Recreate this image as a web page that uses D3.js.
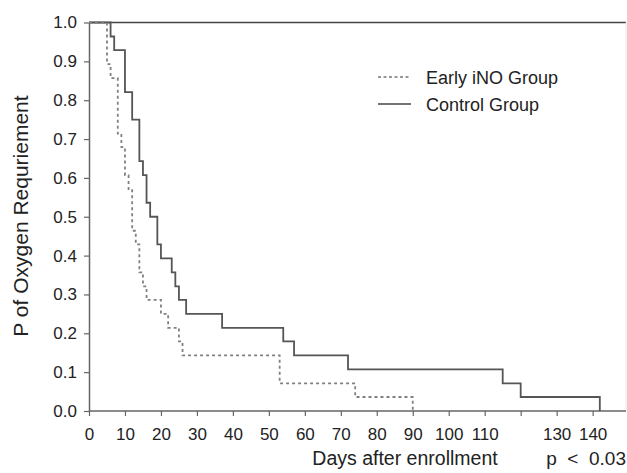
<!DOCTYPE html>
<html><head><meta charset="utf-8">
<script src="https://cdn.jsdelivr.net/npm/d3@7"></script>
<style>body{margin:0;background:#fff}svg{display:block}text{font-family:"Liberation Sans",Arial,sans-serif;fill:#222}</style>
</head><body>
<svg id="c" width="627" height="473"></svg>
<script>
// Kaplan-Meier steps: [day, probability after event]
const earlyDays  = [0, 5, 6, 8, 9, 10, 11, 12, 13, 14, 15, 16, 20, 22, 25, 26, 53, 74, 90];
const earlyProb  = [1.0, 0.893, 0.857, 0.714, 0.679, 0.607, 0.571, 0.464, 0.429, 0.357, 0.321, 0.286, 0.25, 0.214, 0.179, 0.143, 0.071, 0.036, 0.0];
const controlDays = [0, 6, 7, 10, 12, 14, 15, 16, 17, 19, 20, 23, 24, 25, 27, 37, 54, 57, 72, 115, 120, 142];
const controlProb = [1.0, 0.964, 0.929, 0.821, 0.75, 0.643, 0.607, 0.536, 0.5, 0.429, 0.393, 0.357, 0.321, 0.286, 0.25, 0.214, 0.179, 0.143, 0.107, 0.071, 0.036, 0.0];
const xTicks = [0,10,20,30,40,50,60,70,80,90,100,110,120,130,140];
const xTickLabels = ["0","10","20","30","40","50","60","70","80","90","100","110","","130","140"];
const yTicks = [0,0.1,0.2,0.3,0.4,0.5,0.6,0.7,0.8,0.9,1.0];
const seriesNames = ["Early iNO Group","Control Group"];

const svg = d3.select("#c");
const x = d3.scaleLinear().domain([0,149]).range([89,625]);
const y = d3.scaleLinear().domain([0,1]).range([411,22.5]);

// frame
svg.append("line").attr("x1",89).attr("x2",626).attr("y1",y(1)).attr("y2",y(1)).attr("stroke","#444").attr("stroke-width",1.5);
svg.append("line").attr("x1",626).attr("x2",626).attr("y1",y(1)).attr("y2",y(0)).attr("stroke","#e8e8e8").attr("stroke-width",1);

const xAxis = svg.append("g").attr("transform",`translate(0,${y(0)})`)
  .call(d3.axisBottom(x).tickValues(xTicks).tickFormat((d,i)=>xTickLabels[i]).tickSize(5).tickSizeOuter(0));
xAxis.select(".domain").attr("stroke","#666").attr("stroke-width",1.5).attr("d",`M89,0H626`);
xAxis.selectAll(".tick line").attr("stroke","#666").attr("stroke-width",1.2);
xAxis.selectAll(".tick text").attr("font-size",17).attr("y",29).attr("dy",0).style("font-family","'Liberation Sans',Arial,sans-serif").attr("fill","#222");

const yAxis = svg.append("g").attr("transform",`translate(89,0)`)
  .call(d3.axisLeft(y).tickValues(yTicks).tickFormat(d3.format(".1f")).tickSize(5).tickSizeOuter(0));
yAxis.select(".domain").attr("stroke","#666").attr("stroke-width",1.5);
yAxis.selectAll(".tick line").attr("stroke","#666").attr("stroke-width",1.2);
yAxis.selectAll(".tick text").attr("font-size",17).attr("x",-12).style("font-family","'Liberation Sans',Arial,sans-serif").attr("fill","#222");

const line = d3.line().x(d=>x(d[0])).y(d=>y(d[1])).curve(d3.curveStepAfter);
const early = earlyDays.map((d,i)=>[d,earlyProb[i]]);
const control = controlDays.map((d,i)=>[d,controlProb[i]]);

svg.append("path").datum(control).attr("d",line).attr("fill","none").attr("stroke","#555").attr("stroke-width",1.8);
svg.append("path").datum(early).attr("d",line).attr("fill","none").attr("stroke","#808080").attr("stroke-width",1.8).attr("stroke-dasharray","3,3");

// legend
const lg = svg.append("g");
lg.append("line").attr("x1",378).attr("x2",411).attr("y1",77).attr("y2",77).attr("stroke","#777").attr("stroke-width",1.3).attr("stroke-dasharray","3,2.5");
lg.append("line").attr("x1",378).attr("x2",411).attr("y1",104).attr("y2",104).attr("stroke","#444").attr("stroke-width",1.3);
lg.append("text").attr("x",426).attr("y",84).attr("font-size",18).text(seriesNames[0]);
lg.append("text").attr("x",426).attr("y",111).attr("font-size",18).text(seriesNames[1]);

// titles
svg.append("text").attr("x",405).attr("y",465).attr("text-anchor","middle").attr("font-size",19.5).text("Days after enrollment");
svg.append("text").attr("x",626).attr("y",465).attr("text-anchor","end").attr("font-size",19).attr("xml:space","preserve").style("white-space","pre").text("p  <  0.03");
svg.append("text").attr("transform","translate(28,216) rotate(-90)").attr("text-anchor","middle").attr("font-size",21).text("P of Oxygen Requriement");
</script>
</body></html>
